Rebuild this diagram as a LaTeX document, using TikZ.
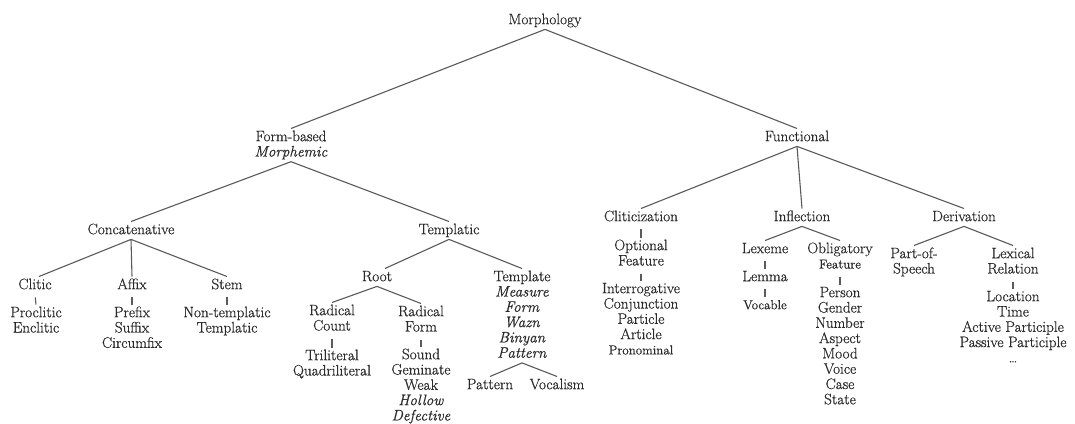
\documentclass[tikz,border=0pt]{standalone}
\usepackage{fontspec}
\setmainfont{Latin Modern Roman}[
  UprightFeatures={FakeBold=0.6},
  ItalicFeatures={FakeBold=0.6}]
\definecolor{inkgrey}{HTML}{2A2A2A}
\definecolor{linegrey}{HTML}{5A5A5A}
% struts: fixed first-line height and last-line depth for every label
\newcommand\hs{\rule{0pt}{11.5pt}}
\newcommand\ds{\rule[-4pt]{0pt}{4pt}}
\newcommand\sm[1]{{\fontsize{13}{15.3}\selectfont #1}}
\begin{document}
\begin{tikzpicture}[x=1pt, y=-1pt,
  lbl/.style={anchor=north, inner sep=1pt, align=center, text=inkgrey,
    font=\fontsize{15.2}{15.3}\selectfont},
  edge/.style={draw=linegrey, line width=1.1pt},
  bar/.style={edge, shorten <=3pt}]
\useasboundingbox[fill=white] (0,0) rectangle (1075,423);

% labels: (x, first-line centre - 8.5)
\node[lbl] (morph) at (545,11.5) {\hs Morphology\ds};
\node[lbl] (form)  at (291,128.5) {\hs Form-based\\ \textit{Morphemic}\ds};
\node[lbl] (func)  at (797,128.5) {\hs Functional\ds};

\node[lbl] (concat) at (131,221.5) {\hs Concatenative\ds};
\node[lbl] (templ)  at (449,221.5) {\hs Templatic\ds};

\node[lbl] (clitic) at (35,276.5) {\hs Clitic\ds};
\node[lbl] (affix)  at (132,276.5) {\hs Affix\ds};
\node[lbl] (stem)   at (227,276.5) {\hs Stem\ds};
\node[lbl] (clist)  at (36,304.5) {\hs Proclitic\\ Enclitic\ds};
\node[lbl] (alist)  at (132,304.5) {\hs Prefix\\ Suffix\\ Circumfix\ds};
\node[lbl] (slist)  at (227,304.5) {\hs Non-templatic\\ Templatic\ds};

\node[lbl] (root)   at (377,268.5) {\hs Root\ds};
\node[lbl] (tmpl)   at (522,268.5) {\hs Template\\ \textit{Measure}\\ \textit{Form}\\ \textit{Wazn}\\ \textit{Binyan}\\ \textit{Pattern}\ds};
\node[lbl] (rcount) at (332,302.5) {\hs Radical\\ Count\ds};
\node[lbl] (rform)  at (421,303.5) {\hs Radical\\ Form\ds};
\node[lbl] (rclist) at (332,347.5) {\hs Triliteral\\ Quadriliteral\ds};
\node[lbl] (rflist) at (421,346.5) {\hs Sound\\ Geminate\\ Weak\\ \textit{Hollow}\\ \textit{Defective}\ds};
\node[lbl] (pat)    at (490,376.5) {\hs Pattern\ds};
\node[lbl] (voc)    at (557,376.5) {\hs Vocalism\ds};

\node[lbl] (cliti)  at (641,208.5) {\hs Cliticization\ds};
\node[lbl] (opt)    at (641,237.5) {\hs Optional\\ Feature\ds};
\node[lbl] (olist)  at (641,280.5) {\hs Interrogative\\ Conjunction\\ Particle\\ Article\\ \sm{Pronominal}\ds};

\node[lbl] (infl)   at (802,208.5) {\hs Inflection\ds};
\node[lbl] (lexeme) at (765,240.5) {\hs Lexeme\ds};
\node[lbl] (lemma)  at (765,268.5) {\hs Lemma\ds};
\node[lbl] (vocab)  at (765,296.5) {\hs \sm{Vocable}\ds};
\node[lbl] (oblig)  at (840,240.5) {\hs Obligatory\\ \sm{Feature}\ds};
\node[lbl] (plist)  at (840,284.5) {\hs Person\\ Gender\\ Number\\ Aspect\\ Mood\\ Voice\\ Case\\ State\ds};

\node[lbl] (deriv)  at (964,208.5) {\hs Derivation\ds};
\node[lbl] (pos)    at (914,245.5) {\hs Part-of-\\ Speech\ds};
\node[lbl] (lexrel) at (1013,245.5) {\hs Lexical\\ Relation\ds};
\node[lbl] (llist)  at (1013,288.5) {\hs Location\\ Time\\ Active Participle\\ Passive Participle\\ \sm{\dots}\ds};

% branches
\path[edge] (morph.south) -- (form.north);
\path[edge] (morph.south) -- (func.north);
\path[edge] (form.south) -- (concat.north);
\path[edge] (form.south) -- (templ.north);
\path[edge] (concat.south) -- ([xshift=4pt]clitic.north);
\path[edge] (concat.south) -- (affix.north);
\path[edge] (concat.south) -- (stem.north);
\path[edge] (templ.south) -- ([xshift=8pt]root.north);
\path[edge] (templ.south) -- (tmpl.north);
\path[edge] (root.south) -- (rcount.north);
\path[edge] (root.south) -- (rform.north);
\path[edge] (tmpl.south) -- (pat.north);
\path[edge] (tmpl.south) -- (voc.north);
\path[edge] (func.south) -- (cliti.north);
\path[edge] (func.south) -- (infl.north);
\path[edge] (func.south) -- (deriv.north);
\path[edge] (infl.south) -- (lexeme.north);
\path[edge] (infl.south) -- (oblig.north);
\path[edge] (deriv.south) -- (pos.north);
\path[edge] (deriv.south) -- (lexrel.north);

% short bars
\path[bar] (clitic.south) -- (clist.north);
\path[bar] (affix.south) -- (alist.north);
\path[bar] (stem.south) -- (slist.north);
\path[bar] (rcount.south) -- (rclist.north);
\path[bar] (rform.south) -- (rflist.north);
\path[bar] (cliti.south) -- (opt.north);
\path[bar] (opt.south) -- (olist.north);
\path[bar] (lexeme.south) -- (lemma.north);
\path[bar] (lemma.south) -- (vocab.north);
\path[bar] (oblig.south) -- (plist.north);
\path[bar] (lexrel.south) -- (llist.north);
\end{tikzpicture}
\end{document}
